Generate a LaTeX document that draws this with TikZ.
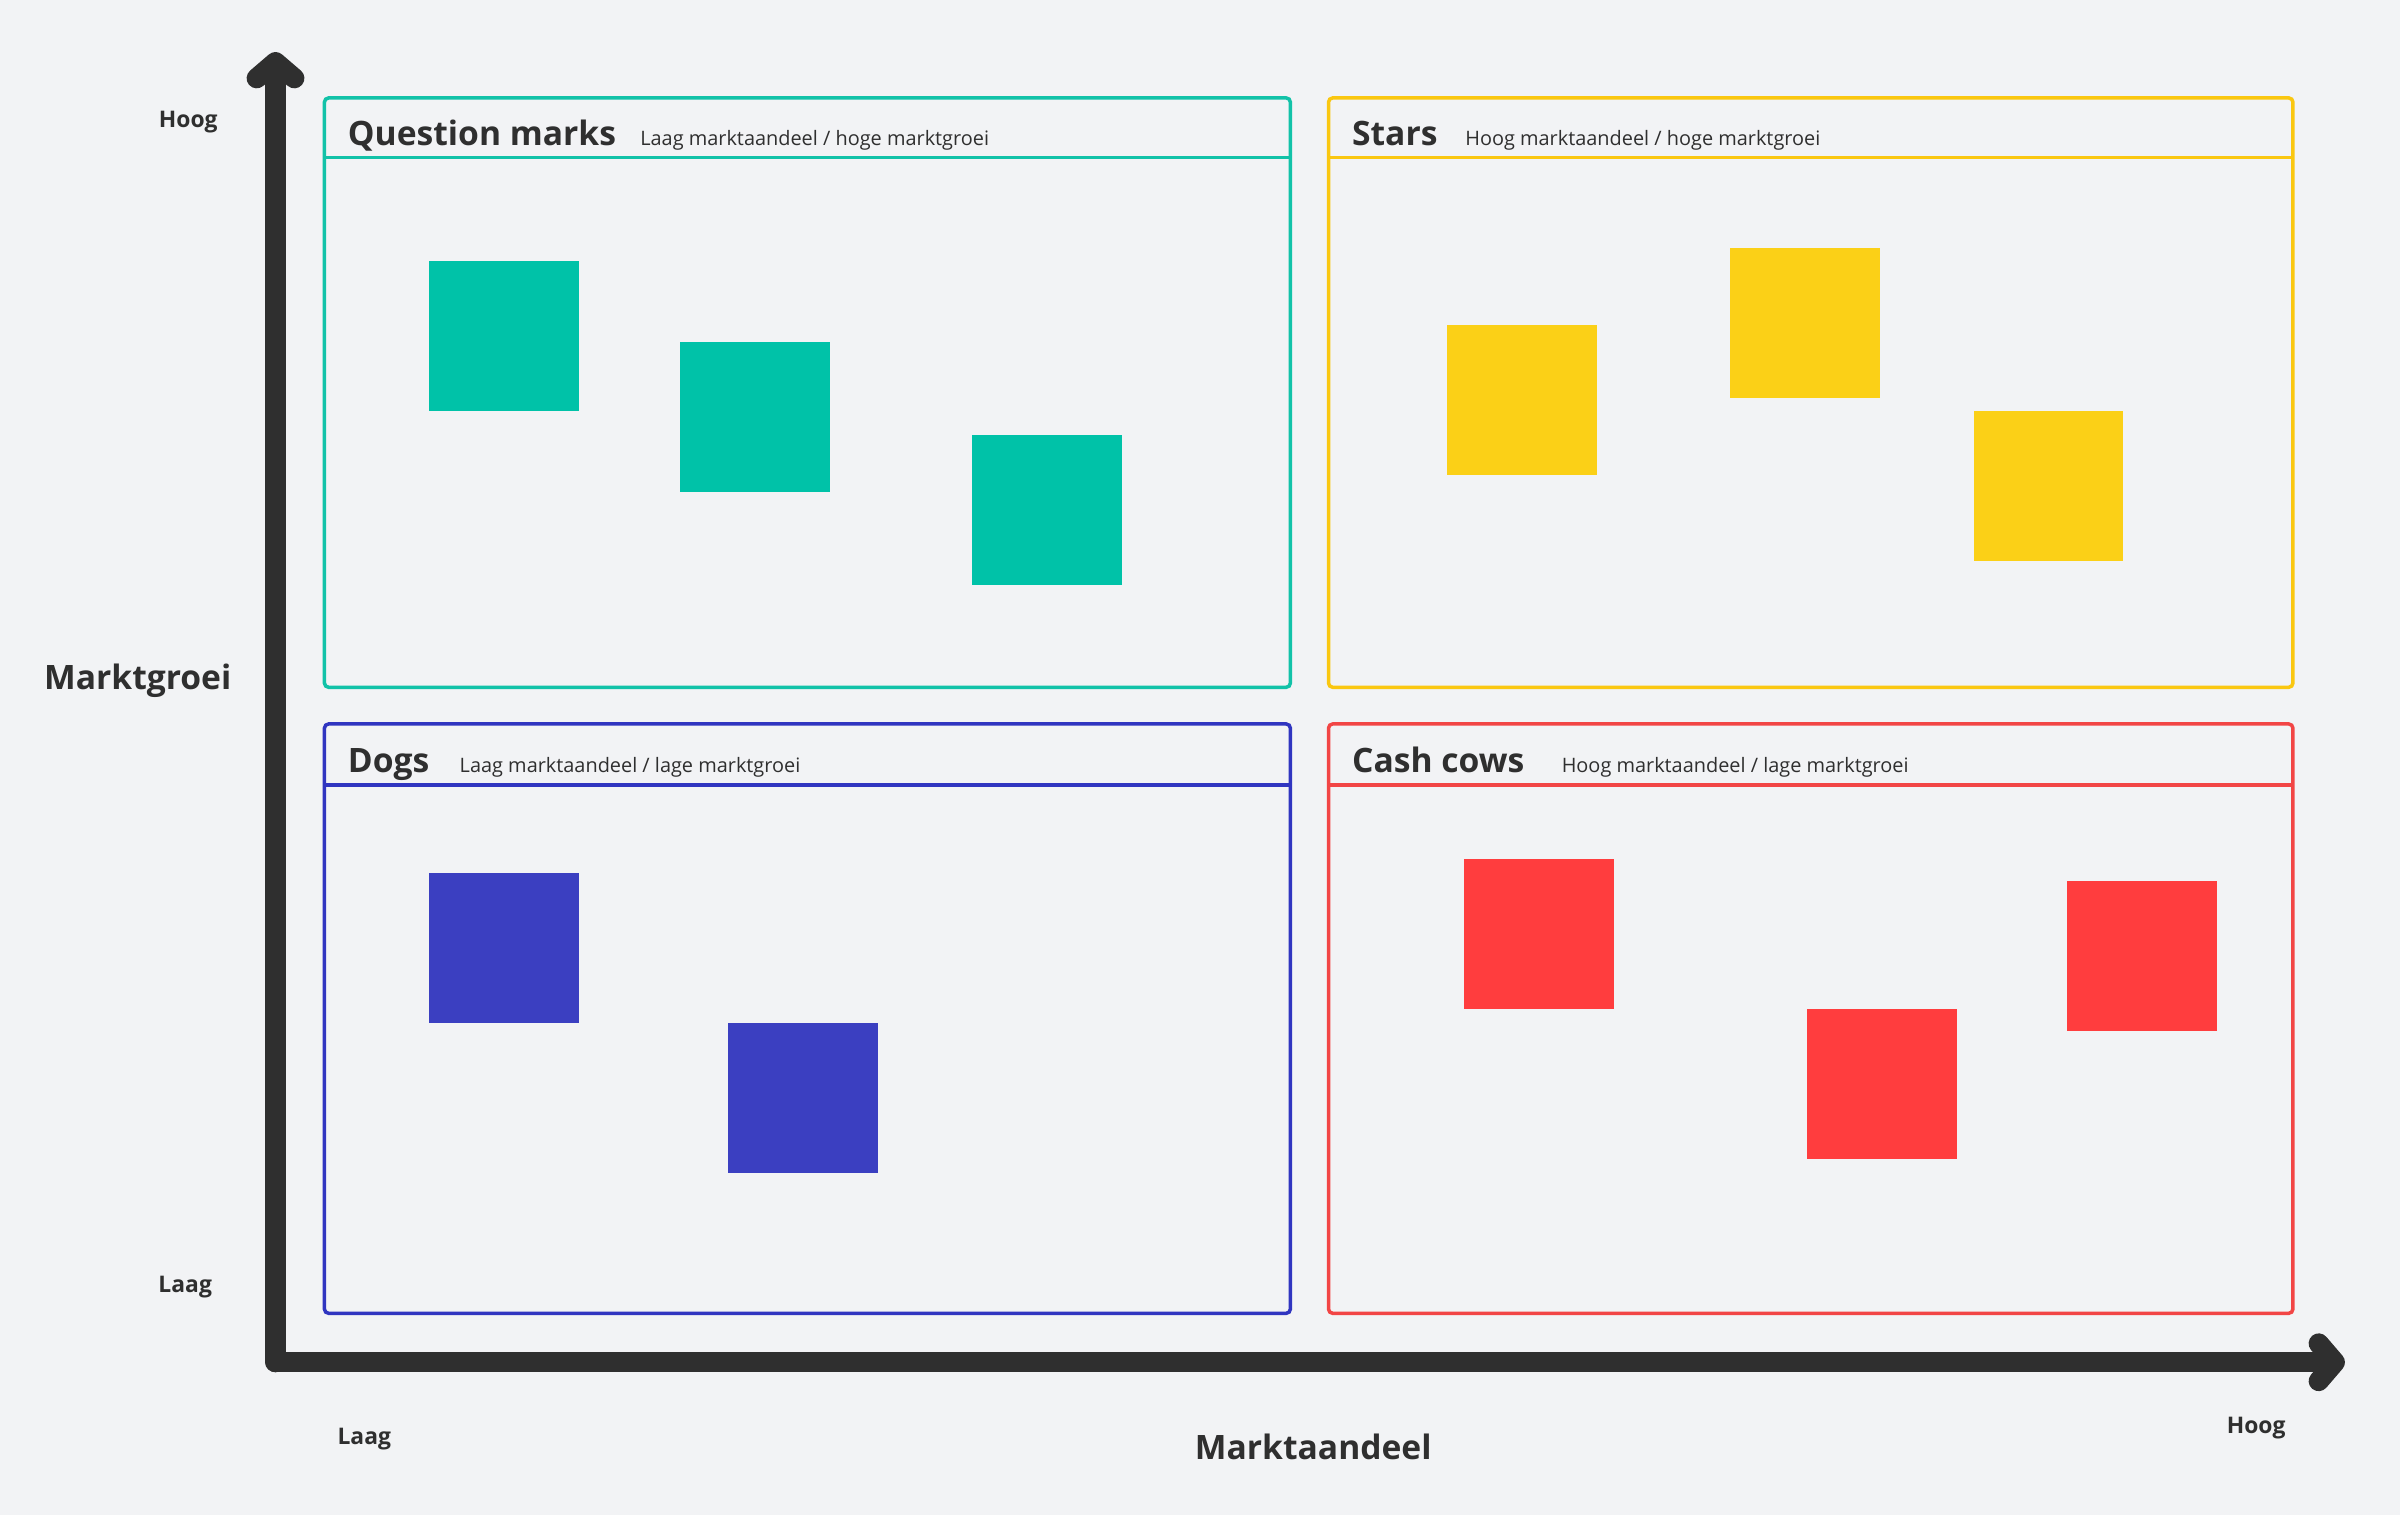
\documentclass[tikz,border=0pt]{standalone}
\usepackage{fontspec}
\setmainfont{Open Sans}
\usetikzlibrary{arrows.meta}
\definecolor{bg}{HTML}{F2F3F5}
\definecolor{ax}{HTML}{2F2F2F}
\definecolor{tealc}{HTML}{12C2A8}
\definecolor{tealf}{HTML}{00C2A8}
\definecolor{yelc}{HTML}{FAC710}
\definecolor{yelf}{HTML}{FBD017}
\definecolor{bluec}{HTML}{3035C0}
\definecolor{bluef}{HTML}{3B3FC1}
\definecolor{redc}{HTML}{F24545}
\definecolor{redf}{HTML}{FF3D3E}
\tikzset{
  frame/.style={draw=#1, line width=1.3pt, rounded corners=1.5pt},
  sticky/.style={fill=#1, draw=none, minimum width=1.96cm, minimum height=1.96cm, inner sep=0, anchor=north west},
  ttl/.style={anchor=base west, font=\fontsize{12.5}{14}\selectfont\bfseries, text=ax, inner sep=0},
  sub/.style={anchor=base west, font=\fontsize{7.4}{9}\selectfont, text=ax, inner sep=0},
  axl/.style={font=\fontsize{8.5}{10}\selectfont\bfseries, text=ax, inner sep=0},
  axt/.style={font=\fontsize{12.5}{14}\selectfont\bfseries, text=ax, inner sep=0},
  axis/.style={draw=ax, line width=7.5pt, line cap=round, line join=round, -{Straight Barb[length=6pt,width=14pt,round]}}
}
\begin{document}
\begin{tikzpicture}[x=0.02cm,y=-0.02cm]
\fill[bg] (0,0) rectangle (1568,990);
\useasboundingbox (0,0) rectangle (1568,990);
\coordinate (o) at (180,890);
\coordinate (yt) at (180,34);
\coordinate (xt) at (1532,890);
\draw[axis] (o) -- (yt);
\draw[axis] (o) -- (xt);
\node[axl] (h1) at (123,80) {Hoog};
\node[axl] (l1) at (121,841) {Laag};
\node[axt] (mg) at (90,445) {Marktgroei};
\node[axl] (l2) at (238,940) {Laag};
\node[axt] (ma) at (858,945) {Marktaandeel};
\node[axl] (h2) at (1474,933) {Hoog};
% frames
\draw[frame=tealc] (212,64) rectangle (843,449); \draw[tealc,line width=1.3pt] (212,103) -- (843,103);
\draw[frame=yelc] (868,64) rectangle (1498,449); \draw[yelc,line width=1.3pt] (868,103) -- (1498,103);
\draw[frame=bluec] (212,473) rectangle (843,858); \draw[bluec,line width=1.3pt] (212,513) -- (843,513);
\draw[frame=redc] (868,473) rectangle (1498,858); \draw[redc,line width=1.3pt] (868,513) -- (1498,513);
\node[ttl] (t1) at (227,95) {Question marks};
\node[sub] (s1) at (418,95) {Laag marktaandeel / hoge marktgroei};
\node[ttl] (t2) at (883,95) {Stars};
\node[sub] (s2) at (957,95) {Hoog marktaandeel / hoge marktgroei};
\node[ttl] (t3) at (227,505) {Dogs};
\node[sub] (s3) at (300,505) {Laag marktaandeel / lage marktgroei};
\node[ttl] (t4) at (883,505) {Cash cows};
\node[sub] (s4) at (1020,505) {Hoog marktaandeel / lage marktgroei};
% stickies
\node[sticky=tealf] (q1) at (280,170) {};
\node[sticky=tealf] (q2) at (444,223) {};
\node[sticky=tealf] (q3) at (635,284) {};
\node[sticky=yelf] (st1) at (945,212) {};
\node[sticky=yelf] (st2) at (1130,162) {};
\node[sticky=yelf] (st3) at (1289,268) {};
\node[sticky=bluef] (d1) at (280,570) {};
\node[sticky=bluef] (d2) at (475,668) {};
\node[sticky=redf] (c1) at (956,561) {};
\node[sticky=redf] (c2) at (1180,659) {};
\node[sticky=redf] (c3) at (1350,575) {};
\end{tikzpicture}
\end{document}
